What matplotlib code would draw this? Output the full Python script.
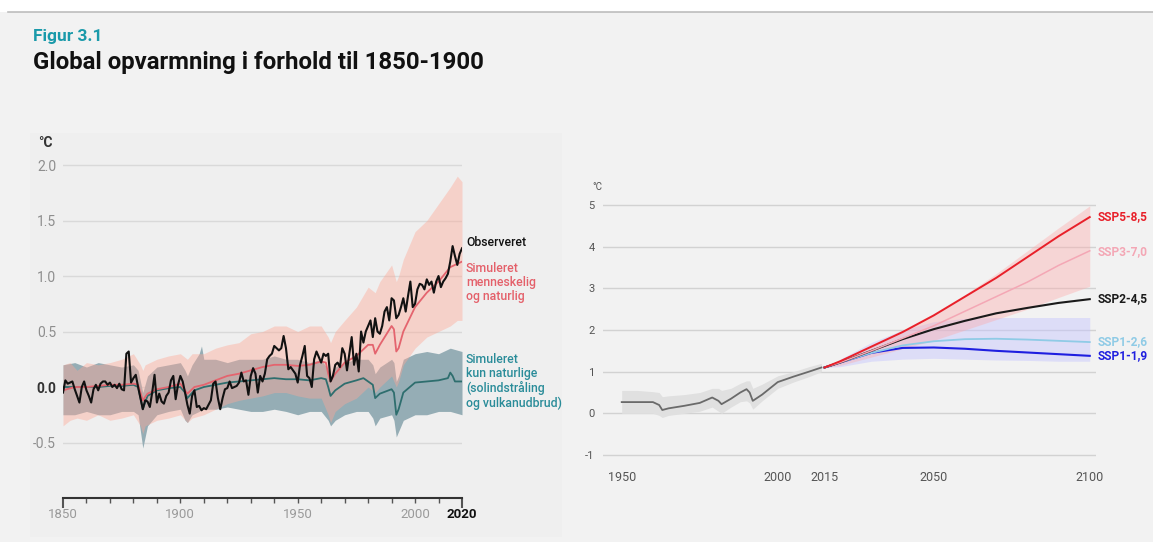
import numpy as np
import matplotlib
matplotlib.use("Agg")
import matplotlib.pyplot as plt
from matplotlib.patches import Rectangle
from matplotlib.lines import Line2D

plt.rcParams['font.family'] = ['Roboto', 'DejaVu Sans']

# ---------------- LEFT PANEL DATA ----------------
obs_years = list(range(1850, 2021))
obs_values = [
    -0.05, 0.06, 0.03, 0.04, 0.05, -0.02, -0.08, -0.14, 0.0, 0.05,      # 1850-1859
    -0.03, -0.08, -0.14, -0.02, 0.02, -0.03, 0.03, 0.05, 0.05, 0.02,    # 1860-1869
    0.04, 0.0, 0.02, -0.01, 0.03, -0.02, -0.03, 0.30, 0.32, 0.04,       # 1870-1879
    0.08, 0.11, 0.0, -0.10, -0.20, -0.12, -0.13, -0.18, -0.05, 0.11,    # 1880-1889
    -0.14, -0.06, -0.13, -0.15, -0.08, -0.05, 0.06, 0.10, -0.11, 0.02,  # 1890-1899
    0.10, 0.05, -0.05, -0.16, -0.24, -0.08, -0.03, -0.18, -0.17, -0.21, # 1900-1909
    -0.19, -0.20, -0.16, -0.12, 0.03, 0.05, -0.10, -0.20, -0.10, -0.02, # 1910-1919
    -0.01, 0.05, -0.01, 0.0, 0.01, 0.04, 0.13, 0.05, 0.06, -0.07,       # 1920-1929
    0.10, 0.17, 0.12, -0.05, 0.10, 0.05, 0.12, 0.25, 0.28, 0.30,        # 1930-1939
    0.37, 0.35, 0.33, 0.35, 0.46, 0.35, 0.16, 0.18, 0.15, 0.12,         # 1940-1949
    0.04, 0.20, 0.28, 0.37, 0.10, 0.08, 0.0, 0.25, 0.32, 0.27,          # 1950-1959
    0.22, 0.30, 0.28, 0.30, 0.05, 0.10, 0.20, 0.22, 0.18, 0.35,         # 1960-1969
    0.30, 0.15, 0.30, 0.45, 0.20, 0.30, 0.14, 0.50, 0.40, 0.50,         # 1970-1979
    0.55, 0.60, 0.45, 0.62, 0.50, 0.48, 0.55, 0.68, 0.72, 0.60,         # 1980-1989
    0.80, 0.78, 0.62, 0.65, 0.72, 0.80, 0.68, 0.82, 0.95, 0.72,         # 1990-1999
    0.75, 0.88, 0.93, 0.92, 0.88, 0.97, 0.92, 0.95, 0.85, 0.95,         # 2000-2009
    1.00, 0.90, 0.95, 0.98, 1.02, 1.13, 1.27, 1.18, 1.10, 1.20,         # 2010-2019
    1.25,                                                               # 2020
]

sim_years = [1850, 1855, 1860, 1865, 1870, 1875, 1880, 1882, 1883, 1884, 1886, 1890,
             1895, 1900, 1902, 1903, 1906, 1910, 1915, 1920, 1925, 1930, 1935, 1940,
             1945, 1950, 1955, 1960, 1962, 1963, 1964, 1966, 1970, 1975, 1980, 1982,
             1983, 1985, 1990, 1991, 1992, 1993, 1995, 2000, 2005, 2010, 2015, 2020]
sim_all = [-0.03, 0.0, 0.0, 0.01, 0.02, 0.02, 0.03, 0.02, -0.05, -0.12, -0.06, -0.02,
           0.0, 0.03, -0.03, -0.06, 0.0, 0.02, 0.06, 0.10, 0.12, 0.15, 0.18, 0.20,
           0.20, 0.19, 0.20, 0.23, 0.22, 0.12, 0.05, 0.12, 0.22, 0.28, 0.38, 0.38,
           0.30, 0.38, 0.55, 0.52, 0.32, 0.35, 0.50, 0.72, 0.85, 0.95, 1.08, 1.13]

nat_years = [1850, 1855, 1860, 1865, 1870, 1875, 1880, 1882, 1883, 1884, 1886, 1890,
             1895, 1900, 1902, 1903, 1906, 1910, 1915, 1920, 1925, 1930, 1935, 1940,
             1945, 1950, 1955, 1960, 1962, 1963, 1964, 1966, 1970, 1975, 1978, 1982,
             1983, 1985, 1990, 1991, 1992, 1993, 1995, 2000, 2005, 2010, 2014, 2015,
             2016, 2017, 2020]
sim_nat = [0.0, 0.0, 0.0, 0.0, 0.01, 0.01, 0.02, 0.0, -0.10, -0.20, -0.08, -0.03,
           -0.01, 0.0, -0.05, -0.10, -0.03, 0.0, 0.02, 0.04, 0.05, 0.06, 0.07, 0.08,
           0.07, 0.07, 0.06, 0.08, 0.07, 0.0, -0.08, -0.03, 0.03, 0.06, 0.08, 0.02,
           -0.10, -0.06, -0.02, -0.05, -0.25, -0.20, -0.05, 0.04, 0.05, 0.06, 0.08, 0.13,
           0.10, 0.05, 0.05]

all_band_years = [1850, 1853, 1856, 1860, 1865, 1870, 1875, 1880, 1883, 1884, 1885, 1890,
                  1895, 1900, 1903, 1905, 1910, 1915, 1920, 1925, 1930, 1935, 1940, 1945,
                  1950, 1955, 1960, 1963, 1964, 1966, 1970, 1975, 1980, 1983, 1985, 1990,
                  1992, 1993, 1995, 2000, 2005, 2010, 2015, 2018, 2020]
all_band_high = [0.20, 0.22, 0.15, 0.22, 0.20, 0.22, 0.25, 0.30, 0.20, 0.15, 0.20, 0.25,
                 0.28, 0.30, 0.25, 0.30, 0.30, 0.35, 0.38, 0.40, 0.48, 0.50, 0.55, 0.55,
                 0.50, 0.55, 0.55, 0.45, 0.40, 0.50, 0.60, 0.72, 0.90, 0.85, 0.95, 1.10,
                 0.95, 1.00, 1.15, 1.40, 1.50, 1.65, 1.80, 1.90, 1.85]
all_band_low = [-0.35, -0.30, -0.28, -0.30, -0.25, -0.30, -0.28, -0.25, -0.35, -0.42, -0.35, -0.30,
                -0.28, -0.25, -0.32, -0.28, -0.25, -0.20, -0.15, -0.12, -0.10, -0.08, -0.05, -0.05,
                -0.08, -0.10, -0.10, -0.25, -0.32, -0.22, -0.15, -0.10, 0.0, -0.05, 0.0, 0.10,
                0.0, 0.05, 0.20, 0.35, 0.45, 0.50, 0.55, 0.60, 0.60]

nat_band_years = [1850, 1855, 1860, 1865, 1870, 1875, 1880, 1882, 1883, 1884, 1886, 1890,
                  1895, 1900, 1902, 1903, 1905, 1908, 1909, 1910, 1915, 1920, 1925, 1930,
                  1935, 1940, 1945, 1950, 1955, 1960, 1963, 1964, 1966, 1970, 1975, 1980,
                  1982, 1983, 1985, 1990, 1991, 1992, 1993, 1995, 2000, 2005, 2010, 2015, 2020]
nat_band_high = [0.20, 0.22, 0.18, 0.22, 0.20, 0.18, 0.20, 0.15, 0.05, -0.05, 0.10, 0.18,
                 0.20, 0.22, 0.15, 0.10, 0.20, 0.30, 0.37, 0.25, 0.25, 0.22, 0.25, 0.25,
                 0.25, 0.28, 0.25, 0.25, 0.22, 0.25, 0.15, 0.10, 0.18, 0.22, 0.25, 0.25,
                 0.20, 0.12, 0.18, 0.25, 0.22, 0.05, 0.10, 0.25, 0.30, 0.32, 0.30, 0.35, 0.32]
nat_band_low = [-0.25, -0.25, -0.22, -0.25, -0.25, -0.22, -0.22, -0.25, -0.40, -0.55, -0.35, -0.25,
                -0.22, -0.20, -0.30, -0.32, -0.25, -0.22, -0.20, -0.20, -0.20, -0.18, -0.20, -0.22,
                -0.22, -0.20, -0.22, -0.25, -0.22, -0.22, -0.30, -0.35, -0.30, -0.25, -0.22, -0.22,
                -0.28, -0.35, -0.28, -0.25, -0.30, -0.45, -0.40, -0.30, -0.25, -0.25, -0.22, -0.22, -0.25]

left_yticks = [-0.5, 0.0, 0.5, 1.0, 1.5, 2.0]
left_ytick_labels = ['-0.5', '0.0', '0.5', '1.0', '1.5', '2.0']
left_xlabels = {1850: '1850', 1900: '1900', 1950: '1950', 2000: '2000', 2020: '2020'}

# ---------------- RIGHT PANEL DATA ----------------
hist_years = [1950, 1955, 1960, 1962, 1963, 1965, 1970, 1975, 1979, 1981, 1982, 1985,
              1988, 1990, 1991, 1992, 1995, 2000, 2005, 2010, 2014]
hist_mean = [0.27, 0.27, 0.27, 0.20, 0.08, 0.12, 0.18, 0.25, 0.38, 0.30, 0.22, 0.35,
             0.50, 0.58, 0.50, 0.30, 0.45, 0.75, 0.88, 1.00, 1.10]
hist_low = [0.0, 0.0, 0.0, -0.05, -0.10, -0.05, 0.0, 0.05, 0.15, 0.05, 0.0, 0.15,
            0.28, 0.30, 0.25, 0.10, 0.30, 0.60, 0.75, 0.88, 1.00]
hist_high = [0.55, 0.55, 0.52, 0.50, 0.40, 0.42, 0.45, 0.50, 0.60, 0.60, 0.55, 0.60,
             0.72, 0.78, 0.78, 0.60, 0.70, 0.90, 1.00, 1.12, 1.20]

scen_years = [2015, 2020, 2030, 2040, 2050, 2060, 2070, 2080, 2090, 2100]
ssp585 = [1.10, 1.25, 1.60, 1.95, 2.35, 2.80, 3.25, 3.75, 4.25, 4.71]
ssp370 = [1.10, 1.22, 1.50, 1.80, 2.10, 2.45, 2.80, 3.15, 3.55, 3.90]
ssp245 = [1.10, 1.22, 1.50, 1.78, 2.02, 2.22, 2.40, 2.53, 2.65, 2.74]
ssp126 = [1.10, 1.22, 1.45, 1.63, 1.73, 1.78, 1.79, 1.77, 1.74, 1.71]
ssp119 = [1.10, 1.22, 1.45, 1.57, 1.58, 1.55, 1.50, 1.46, 1.42, 1.38]
ssp370_high = [1.10, 1.28, 1.65, 2.00, 2.40, 2.85, 3.35, 3.90, 4.45, 4.98]
ssp370_low = [1.10, 1.15, 1.35, 1.55, 1.75, 2.00, 2.25, 2.50, 2.78, 3.05]
ssp126_high = [1.10, 1.30, 1.70, 2.00, 2.20, 2.28, 2.30, 2.30, 2.30, 2.30]
ssp126_low = [1.10, 1.12, 1.25, 1.30, 1.32, 1.30, 1.28, 1.27, 1.25, 1.25]

scen_names = ['SSP5-8,5', 'SSP3-7,0', 'SSP2-4,5', 'SSP1-2,6', 'SSP1-1,9']
right_yticks = [-1, 0, 1, 2, 3, 4, 5]
right_xticks = [1950, 2000, 2015, 2050, 2100]

# ---------------- FIGURE ----------------
W, H = 1153, 542
fig = plt.figure(figsize=(W / 100, H / 100), dpi=100, facecolor='white')


def rect(x0, y0, x1, y1):
    return [x0 / W, 1 - y1 / H, (x1 - x0) / W, (y1 - y0) / H]


# background
fig.patches.append(Rectangle((0, 0), 1, 1 - 12 / H, transform=fig.transFigure,
                             facecolor='#f2f2f2', edgecolor='none', zorder=-10))
fig.lines.append(Line2D([8 / W, 1], [1 - 12 / H, 1 - 12 / H], transform=fig.transFigure,
                        color='#bdbdbd', lw=1.2))
fig.patches.append(Rectangle((30 / W, 1 - 537 / H), (562 - 30) / W, (537 - 133) / H,
                             transform=fig.transFigure, facecolor='#efefef',
                             edgecolor='none', zorder=-9))

fig.text(33 / W, 1 - 36 / H, 'Figur 3.1', color='#1a9aaa', fontsize=12.5,
         fontweight='bold', va='center', ha='left')
fig.text(33 / W, 1 - 63 / H, 'Global opvarmning i forhold til 1850-1900', color='#111111',
         fontsize=17.3, fontweight='bold', va='center', ha='left')

# ---------------- LEFT AXES ----------------
axL = fig.add_axes(rect(63, 159.5, 462, 498))
axL.set_facecolor('none')
axL.set_xlim(1850, 2020)
axL.set_ylim(-1.0, 2.05)

for yv in left_yticks:
    axL.axhline(yv, color='#d9d9d9', lw=1.0, zorder=0)

axL.fill_between(nat_band_years, nat_band_low, nat_band_high, color='#95adb5',
                 lw=0, zorder=1)
axL.fill_between(all_band_years, all_band_low, all_band_high, color='#ffa896',
                 alpha=0.42, lw=0, zorder=2)
axL.plot(nat_years, sim_nat, color='#2e6e6e', lw=1.3, zorder=3)
axL.plot(sim_years, sim_all, color='#e4646e', lw=1.3, zorder=4)
axL.plot(obs_years, obs_values, color='#111111', lw=1.5, zorder=5)

for s in ['top', 'right', 'left']:
    axL.spines[s].set_visible(False)
axL.spines['bottom'].set_color('#333333')
axL.spines['bottom'].set_linewidth(1.5)

axL.set_yticks(left_yticks)
axL.set_yticklabels(left_ytick_labels)
axL.tick_params(axis='y', length=0, pad=5, labelsize=10, labelcolor='#8e8e8e')
for t in axL.yaxis.get_major_ticks():
    if t.label1.get_text() == '0.0':
        t.label1.set_color('#333333')
        t.label1.set_fontweight('bold')

dec = list(range(1850, 2021, 10))
axL.set_xticks(dec)
axL.set_xticklabels([left_xlabels.get(d, '') for d in dec])
axL.tick_params(axis='x', length=3.5, width=1.0, color='#555555', pad=4,
                labelsize=9.5, labelcolor='#9a9a9a')
for t in axL.xaxis.get_major_ticks():
    lab = t.label1.get_text()
    if lab in ('1850', '2020'):
        t.tick1line.set_markersize(7)
        t.tick1line.set_markeredgewidth(1.5)
        t.tick1line.set_color('#333333')
    if lab == '2020':
        t.label1.set_color('#111111')
        t.label1.set_fontweight('bold')

fig.text(38 / W, 1 - 143 / H, '°C', fontsize=10, fontweight='bold', color='#333333',
         va='center', ha='left')

tx = 466 / W
fig.text(tx, 1 - 243 / H, 'Observeret', fontsize=8.8, color='#111111', va='center',
         ha='left', fontweight='medium')
fig.text(tx, 1 - 262 / H, 'Simuleret\nmenneskelig\nog naturlig', fontsize=8.8,
         color='#e4606a', va='top', ha='left', linespacing=1.1, fontweight='medium')
fig.text(tx, 1 - 353 / H, 'Simuleret\nkun naturlige\n(solindstråling\nog vulkanudbrud)',
         fontsize=8.8, color='#2a8c99', va='top', ha='left', linespacing=1.1,
         fontweight='medium')

# ---------------- RIGHT AXES ----------------
axR = fig.add_axes(rect(603, 202.9, 1096, 457.1))
axR.set_facecolor('none')
axR.set_xlim(1944, 2102)
axR.set_ylim(-1.05, 5.05)
for s in axR.spines.values():
    s.set_visible(False)
for yv in right_yticks:
    axR.axhline(yv, color='#d2d2d2', lw=1.0, zorder=0)

axR.fill_between(hist_years, hist_low, hist_high, color='#e0e0e0', lw=0, zorder=1)
axR.plot(hist_years, hist_mean, color='#6a6a6a', lw=1.3, zorder=2)

axR.fill_between(scen_years, ssp126_low, ssp126_high, color='#c4c4ff', alpha=0.45,
                 lw=0, zorder=1)
axR.fill_between(scen_years, ssp370_low, ssp370_high, color='#ffa8a8', alpha=0.38,
                 lw=0, zorder=1)

scen_vals = [ssp585, ssp370, ssp245, ssp126, ssp119]
scen_colors = ['#e8202a', '#f4a7b5', '#1a1a1a', '#8fcbe6', '#1f1fe0']
scen_lw = [1.4, 1.1, 1.5, 1.3, 1.5]
label_y = [4.73, 3.88, 2.76, 1.72, 1.38]
for vals, c, lw in zip(scen_vals[::-1], scen_colors[::-1], scen_lw[::-1]):
    axR.plot(scen_years, vals, color=c, lw=lw, zorder=3)
for name, c, ly in zip(scen_names, scen_colors, label_y):
    axR.text(2102.5, ly, name, color=c, fontsize=8.6, fontweight='bold', va='center',
             ha='left', clip_on=False)

axR.set_yticks(right_yticks)
axR.set_yticklabels([str(v) for v in right_yticks])
axR.set_xticks(right_xticks)
axR.set_xticklabels([str(v) for v in right_xticks])
axR.tick_params(axis='y', length=0, pad=6, labelsize=8, labelcolor='#555555')
axR.tick_params(axis='x', length=0, pad=10, labelsize=9, labelcolor='#555555')

fig.text(592 / W, 1 - 187 / H, '°C', fontsize=7, color='#555555', va='center', ha='left')

fig.savefig('out.png', dpi=100, facecolor=fig.get_facecolor())
